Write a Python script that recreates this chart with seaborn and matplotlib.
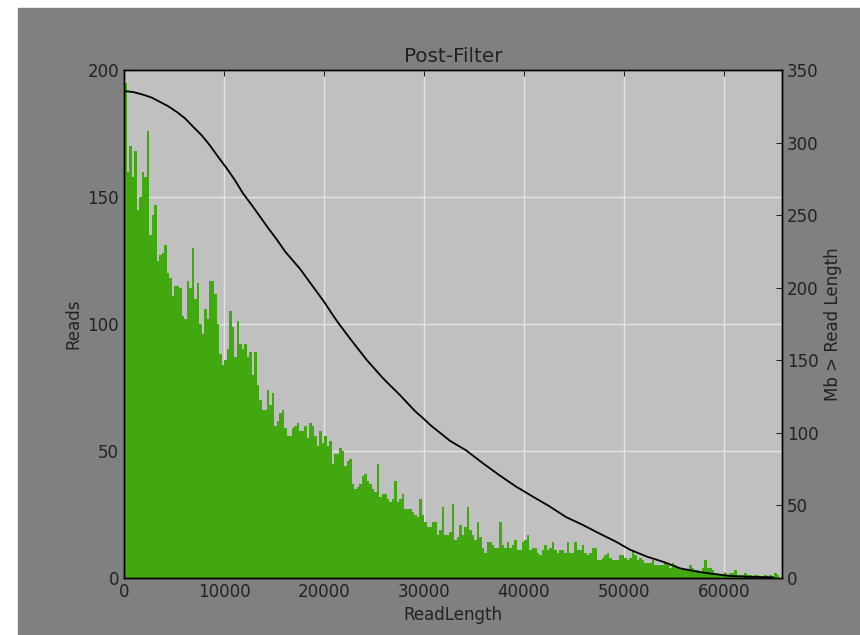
import pandas as pd
import matplotlib
matplotlib.use("Agg")
import matplotlib.pyplot as plt
from matplotlib.patches import Rectangle
import seaborn as sns

# reads per 250 bp bin
bin_width = 250
counts = [
    195, 160, 170, 158, 168, 145, 150, 160, 158, 176, 135, 143, 147, 125, 127,
    128, 131, 120, 118, 111, 115, 115, 114, 103, 102, 117, 114, 130, 110, 116,
    100, 96, 106, 102, 117,
    117, 112, 100, 88, 84, 86, 90, 105, 99, 87, 101, 92, 90, 92, 87,
    89, 80, 89, 76, 70, 66, 66, 74, 68, 73, 60, 62, 65, 66, 59,
    56, 56, 59, 60, 61,
    58, 58, 60, 55, 61, 60, 56, 52, 58, 53, 56, 52, 54, 45, 49,
    49, 51, 50, 44, 46, 47, 37, 35, 36, 37, 40, 41, 38, 37, 35,
    34, 45, 32, 33, 33, 31, 30, 31, 38, 30, 31, 33, 27, 27, 27,
    26, 25, 24, 31, 25, 22, 20, 20, 22, 22, 17, 19, 28, 17, 17,
    18, 29, 15, 16, 21, 17, 20, 28,
    19, 17, 15, 22, 16, 12, 10, 14, 14, 13, 12, 12, 22, 13, 12,
    14, 12, 13, 15, 11, 11, 14, 15, 17, 11, 12, 12, 10, 9, 11,
    13, 11, 12, 14, 11, 10, 11, 11, 10, 14, 10, 10, 14, 11, 11,
    13, 10, 9, 10, 12, 12, 7, 7, 8, 9, 10, 8, 7, 7, 7,
    9, 9, 8, 7, 8, 11, 9,
    7, 8, 7, 6, 6, 6, 7, 5, 5, 5, 5, 6, 5, 4, 6,
    5, 4, 4, 4, 3, 3, 5, 4, 3, 3, 2, 4, 7, 4, 4,
    3, 2, 2, 1, 1, 2, 1, 2, 2, 3, 1, 1, 1, 2, 1,
    1, 0, 1, 1, 0, 0, 1, 0, 1, 0, 2, 1, 0,
]

# Mb in reads longer than a given length
curve_len = [0, 930, 1900, 2770, 3600, 4430, 5300, 6100, 6900, 7770,
             8600, 9430, 10300, 11100, 11900, 12770, 13600, 14430, 15300,
             16100, 17600, 20000, 20900, 21400, 22600, 24300, 25900, 27600,
             29100, 30000, 30700, 32600, 34200, 35900, 37500, 39200, 40900,
             42500, 44200, 45900, 47500, 49200, 50600, 52300, 53900, 55600,
             57300, 58900, 60600, 62300, 64900]
curve_mb = [335.5, 334.8, 333, 331, 328, 325, 321, 316.7, 311, 305,
            298, 290, 282, 274, 265, 257, 249, 241, 233,
            225, 213, 190.4, 181, 176, 165, 150, 137.6, 126,
            115, 109.5, 105, 94.5, 88, 79, 71, 63, 56,
            49.6, 42, 36.5, 30.8, 25, 19.5, 14.7, 11.2, 6.7,
            4.4, 2.8, 1.4, 0.9, 0.5]

x_max = 65800
bar_color = "#41a90f"

plt.rcParams.update({
    "font.family": "DejaVu Sans",
    "font.size": 12,
    "xtick.direction": "in",
    "ytick.direction": "in",
    "xtick.color": "#222222",
    "ytick.color": "#222222",
    "text.color": "#222222",
    "axes.labelcolor": "#222222",
})

edges = [i * bin_width for i in range(len(counts) + 1)]
hist_df = pd.DataFrame({
    "length": [e + bin_width / 2 for e in edges[:-1]],
    "reads": counts,
})
curve_df = pd.DataFrame({"length": curve_len, "mb": curve_mb})

fig = plt.figure(figsize=(8.6, 6.35), dpi=100, facecolor="white")
fig.patches.append(Rectangle((18 / 860, 0), 1, 1 - 8 / 635,
                             transform=fig.transFigure, color="#808080",
                             zorder=-10))
ax = fig.add_axes([124 / 860, 1 - 578 / 635, (782 - 124) / 860, (578 - 70) / 635])
ax.set_facecolor("#c0c0c0")

sns.histplot(data=hist_df, x="length", weights="reads", bins=edges, ax=ax,
             color=bar_color, alpha=1, linewidth=0)
ax.set_axisbelow(True)
ax.grid(True, color="#e4e4e4", linewidth=1)
ax.set_xlim(0, x_max)
ax.set_ylim(0, 200)
ax.set_xticks(range(0, 60001, 10000))
ax.set_yticks(range(0, 201, 50))
ax.tick_params(top=True, length=4)
ax.set_xlabel("ReadLength")
ax.set_ylabel("Reads")
ax.set_title("Post-Filter", fontsize=14.4, pad=6)

ax2 = ax.twinx()
sns.lineplot(data=curve_df, x="length", y="mb", ax=ax2, color="black",
             linewidth=1.3)
ax2.set_ylim(0, 350)
ax2.set_yticks(range(0, 351, 50))
ax2.tick_params(length=4)
ax2.set_ylabel("Mb > Read Length")
ax2.set_xlim(0, x_max)

for a in (ax, ax2):
    for s in a.spines.values():
        s.set_color("black")
        s.set_linewidth(1)

plt.savefig("out.png", dpi=100, facecolor=fig.get_facecolor())
